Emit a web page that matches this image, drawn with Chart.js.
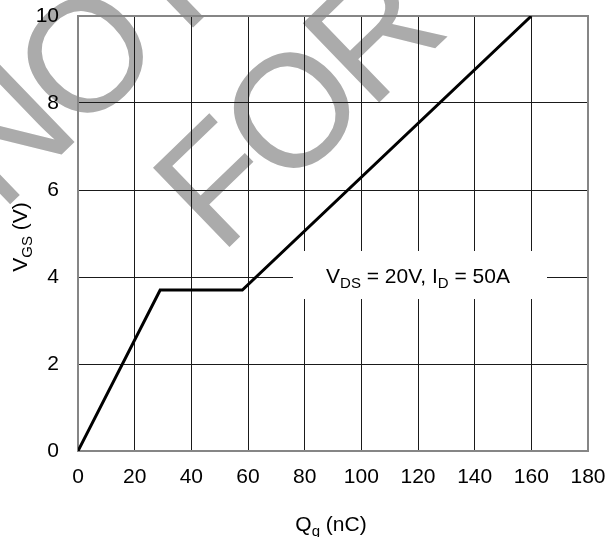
<!DOCTYPE html>
<html><head><meta charset="utf-8">
<script src="https://cdn.jsdelivr.net/npm/chart.js@4.4.1/dist/chart.umd.min.js"></script>
<style>html,body{margin:0;padding:0;background:#fff}canvas{display:block}</style>
</head><body>
<canvas id="c" width="607" height="537"></canvas>
<script>
// ---- data ----
const qg  = [0, 29, 58, 160];        // Qg (nC)
const vgs = [0, 3.7, 3.7, 10];       // VGS (V)
const xTicks = [0, 20, 40, 60, 80, 100, 120, 140, 160, 180];
const yTicks = [0, 2, 4, 6, 8, 10];
const xTitle = [['Q', false], ['g', true], [' (nC)', false]];
const yTitle = [['V', false], ['GS', true], [' (V)', false]];
const noteText = [['V', false], ['DS', true], [' = 20V, I', false], ['D', true], [' = 50A', false]];
const notePos = [120, 4];
const watermark = ['NOT', 'FOR'];

const FONT = '"Liberation Sans", Arial, sans-serif';
const MAIN = 21, SUB = 15;

function richWidth(ctx, parts) {
  let w = 0;
  for (const [t, s] of parts) { ctx.font = (s ? SUB : MAIN) + 'px ' + FONT; w += ctx.measureText(t).width; }
  return w;
}
function drawRich(ctx, parts, x, y) {
  const w = richWidth(ctx, parts);
  let cx = x - w / 2;
  ctx.textAlign = 'left'; ctx.textBaseline = 'alphabetic'; ctx.fillStyle = '#000';
  for (const [t, s] of parts) {
    ctx.font = (s ? SUB : MAIN) + 'px ' + FONT;
    ctx.fillText(t, cx, s ? y + 5 : y);
    cx += ctx.measureText(t).width;
  }
}
function spacedText(ctx, text, x, y, gap) {
  let cx = x;
  for (const ch of text) {
    ctx.fillText(ch, cx, y);
    cx += ctx.measureText(ch).width + gap;
  }
}

const deco = {
  id: 'deco',
  beforeDraw(chart) {
    const ctx = chart.ctx;
    ctx.save();
    ctx.fillStyle = '#fff';
    ctx.fillRect(0, 0, chart.width, chart.height);
    // watermark
    ctx.translate(220, 256);
    ctx.rotate(-44 * Math.PI / 180);
    ctx.fillStyle = '#ababab';
    ctx.font = '160px ' + FONT;
    ctx.textAlign = 'left'; ctx.textBaseline = 'alphabetic';
    spacedText(ctx, watermark[1], 0, 0, -7);
    spacedText(ctx, watermark[0], -128, -183, -7);
    ctx.restore();
  },
  beforeDatasetsDraw(chart) {
    const ctx = chart.ctx, a = chart.chartArea;
    const xs = chart.scales.x, ys = chart.scales.y;
    ctx.save();
    // annotation box
    const nx = xs.getPixelForValue(notePos[0]), ny = ys.getPixelForValue(notePos[1]);
    ctx.fillStyle = '#fff';
    ctx.fillRect(nx - 125, ny - 26, 254, 48);
    drawRich(ctx, noteText, nx, ny + 6);
    // frame
    ctx.strokeStyle = '#868686';
    ctx.lineWidth = 2;
    ctx.strokeRect(a.left, a.top, a.right - a.left, a.bottom - a.top);
    // axis titles
    drawRich(ctx, xTitle, (a.left + a.right) / 2 - 2, 531);
    ctx.translate(27, 237);
    ctx.rotate(-Math.PI / 2);
    drawRich(ctx, yTitle, 0, 0);
    ctx.restore();
  }
};

new Chart(document.getElementById('c'), {
  type: 'line',
  data: {
    datasets: [{
      data: qg.map((x, i) => ({ x: x, y: vgs[i] })),
      borderColor: '#000',
      borderWidth: 3,
      pointRadius: 0,
      tension: 0,
      fill: false
    }]
  },
  options: {
    responsive: false,
    animation: false,
    devicePixelRatio: 1,
    layout: { padding: { left: 0, top: 16, right: 19, bottom: 0 } },
    plugins: { legend: { display: false }, tooltip: { enabled: false } },
    scales: {
      x: {
        type: 'linear', min: 0, max: 180,
        afterBuildTicks: s => { s.ticks = xTicks.map(v => ({ value: v })); },
        afterFit: s => { s.height = 86; s.paddingLeft = 0; s.paddingRight = 0; },
        ticks: { color: '#000', font: { family: FONT, size: MAIN }, padding: 14, maxRotation: 0, autoSkip: false },
        grid: { color: '#1a1a1a', lineWidth: 1, drawTicks: false },
        border: { display: false }
      },
      y: {
        type: 'linear', min: 0, max: 10,
        afterBuildTicks: s => { s.ticks = yTicks.map(v => ({ value: v })); },
        afterFit: s => { s.width = 78; s.paddingTop = 0; s.paddingBottom = 0; },
        ticks: { color: '#000', font: { family: FONT, size: MAIN }, padding: 19, autoSkip: false },
        grid: { color: '#1a1a1a', lineWidth: 1, drawTicks: false },
        border: { display: false }
      }
    }
  },
  plugins: [deco]
});
</script>
</body></html>
